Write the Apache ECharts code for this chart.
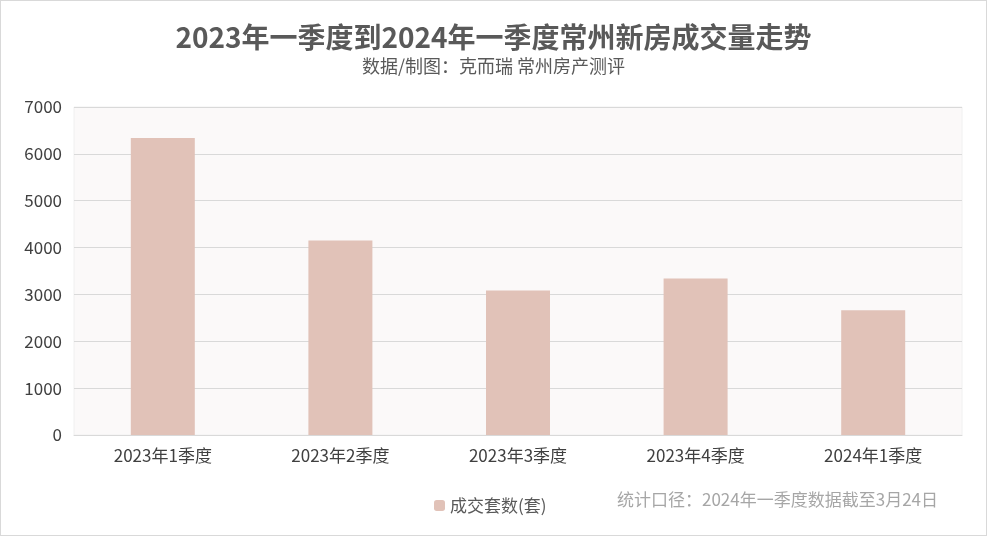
<!DOCTYPE html>
<html>
<head>
<meta charset="utf-8">
<script src="https://cdn.jsdelivr.net/npm/echarts@6/dist/echarts.min.js"></script>
<style>
html,body{margin:0;padding:0;background:#fff;}
#main{width:985px;height:534px;border:1px solid #d9d9d9;}
</style>
</head>
<body>
<div id="main"></div>
<script>
var categories = ['2023年1季度', '2023年2季度', '2023年3季度', '2023年4季度', '2024年1季度'];
var deals = [6340, 4150, 3085, 3340, 2660];
var yTicks = [0, 7000, 1000]; // min, max, interval

var chart = echarts.init(document.getElementById('main'));
var font = '"Microsoft YaHei","Noto Sans CJK SC",sans-serif';
var option = {
    textStyle: {fontFamily: font},
    title: [{
        text: '2023年一季度到2024年一季度常州新房成交量走势',
        subtext: '数据/制图：克而瑞 常州房产测评',
        left: 'center',
        top: 17,
        itemGap: 6,
        textStyle: {fontSize: 28, fontWeight: 'bold', color: '#595959', fontFamily: font},
        subtextStyle: {fontSize: 18, color: '#595959', fontFamily: font}
    }, {
        text: '统计口径：2024年一季度数据截至3月24日',
        left: 611,
        top: 485,
        textStyle: {fontSize: 17, fontWeight: 'normal', color: '#a6a6a6', fontFamily: font}
    }],
    legend: {
        data: ['成交套数(套)'],
        left: 428,
        top: 491,
        itemWidth: 11,
        itemHeight: 11,
        textStyle: {fontSize: 17, color: '#595959'}
    },
    grid: {left: 73, right: 24, top: 106, bottom: 100, backgroundColor: '#fbf9f9', show: true, borderColor: '#f0f0f0'},
    xAxis: {
        type: 'category',
        data: categories,
        axisTick: {show: false},
        axisLine: {lineStyle: {color: '#d9d9d9'}},
        axisLabel: {fontSize: 17, color: '#404040', margin: 12}
    },
    yAxis: {
        type: 'value',
        min: yTicks[0], max: yTicks[1], interval: yTicks[2],
        axisLabel: {fontSize: 17, color: '#404040', margin: 12, formatter: function (v) { return String(v); }},
        splitLine: {lineStyle: {color: '#d9d9d9'}}
    },
    series: [{
        name: '成交套数(套)',
        type: 'bar',
        barWidth: 64,
        itemStyle: {color: '#e1c2b8'},
        data: deals
    }]
};
chart.setOption(option);
</script>
</body>
</html>
